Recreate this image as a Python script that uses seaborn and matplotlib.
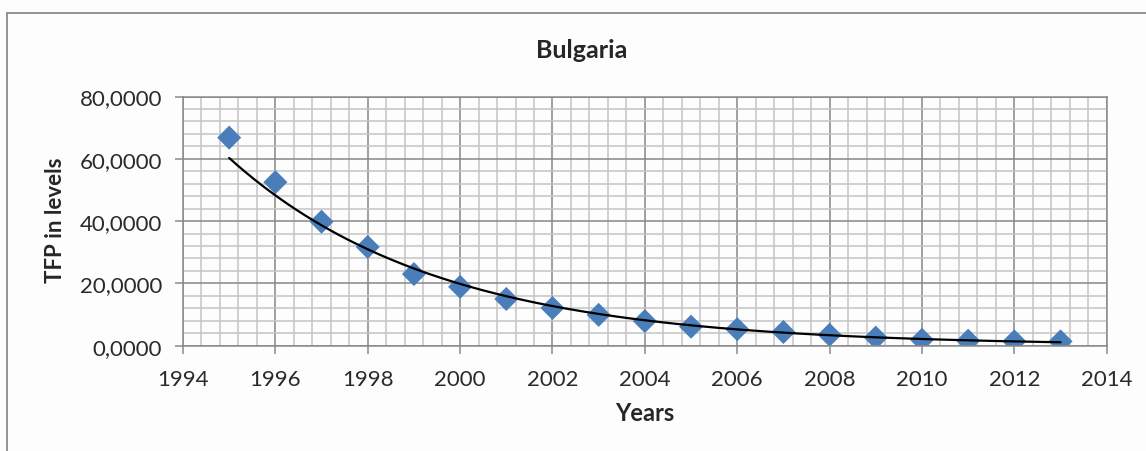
import numpy as np
import pandas as pd
import seaborn as sns
import matplotlib.pyplot as plt
from matplotlib.patches import Rectangle
from matplotlib.ticker import MultipleLocator, FuncFormatter

# TFP in levels for Bulgaria
years = [1995, 1996, 1997, 1998, 1999, 2000, 2001, 2002, 2003, 2004,
         2005, 2006, 2007, 2008, 2009, 2010, 2011, 2012, 2013]
tfp = [66.8, 52.5, 39.8, 31.7, 23.0, 18.9, 15.0, 12.1, 9.9, 7.9,
       6.1, 5.3, 4.4, 3.5, 2.6, 1.9, 1.6, 1.4, 1.4]

df = pd.DataFrame({'Year': years, 'TFP': tfp})

# exponential trendline (like Excel's), fitted on the points
b, log_a = np.polyfit(df['Year'], np.log(df['TFP']), 1)
trend_x = np.linspace(years[0], years[-1], 200)
trend = pd.DataFrame({'Year': trend_x, 'TFP': np.exp(log_a + b * trend_x)})

sns.set_style('white')
plt.rcParams['font.family'] = ['Lato', 'DejaVu Sans']

W, H = 1146, 452
fig = plt.figure(figsize=(W / 100, H / 100), dpi=100)
fig.patch.set_facecolor('#fdfdfd')
fig.patches.append(Rectangle((7 / W, -0.2), 1.2, (H - 14) / H + 0.2, transform=fig.transFigure,
                             fill=False, edgecolor='#8a8a8a', lw=1.3))

ax = fig.add_axes([183 / W, 1 - 346.7 / H, (1106.7 - 183) / W, (346.7 - 97.5) / H])
ax.set_facecolor('#fdfdfd')

sns.lineplot(data=trend, x='Year', y='TFP', color='black', lw=1.6, ax=ax, zorder=3)
sns.scatterplot(data=df, x='Year', y='TFP', marker='D', s=150, color='#4a7ebb',
                edgecolor='none', ax=ax, zorder=2)

ax.set_xlim(1994, 2014)
ax.set_ylim(0, 80)
ax.xaxis.set_major_locator(MultipleLocator(2))
ax.xaxis.set_minor_locator(MultipleLocator(0.4))
ax.yaxis.set_major_locator(MultipleLocator(20))
ax.yaxis.set_minor_locator(MultipleLocator(4))
ax.yaxis.set_major_formatter(FuncFormatter(lambda v, p: f'{v:.4f}'.replace('.', ',')))

ax.grid(which='major', color='#878787', lw=1.1)
ax.grid(which='minor', color='#c4c4c4', lw=1.1)
ax.set_axisbelow(True)
for s in ax.spines.values():
    s.set_color('#8a8a8a')
    s.set_linewidth(1.1)

ax.tick_params(which='major', direction='out', length=6, width=1.1, color='#8a8a8a',
               labelsize=16, labelcolor='#2a2a2a', left=True, bottom=True)
ax.tick_params(axis='x', which='major', pad=11)
ax.tick_params(axis='y', which='major', pad=9)
ax.tick_params(which='minor', length=0)

ax.set_xlabel('')
ax.set_ylabel('')
fig.text(582 / W, 1 - 51 / H, 'Bulgaria', ha='center', va='center', fontsize=18, fontweight='bold')
fig.text(645 / W, 1 - 414 / H, 'Years', ha='center', va='center', fontsize=17, fontweight='bold')
fig.text(55 / W, 1 - 220 / H, 'TFP in levels', ha='center', va='center', rotation=90,
         fontsize=16, fontweight='bold')

fig.savefig('out.png', dpi=100, facecolor=fig.get_facecolor())
